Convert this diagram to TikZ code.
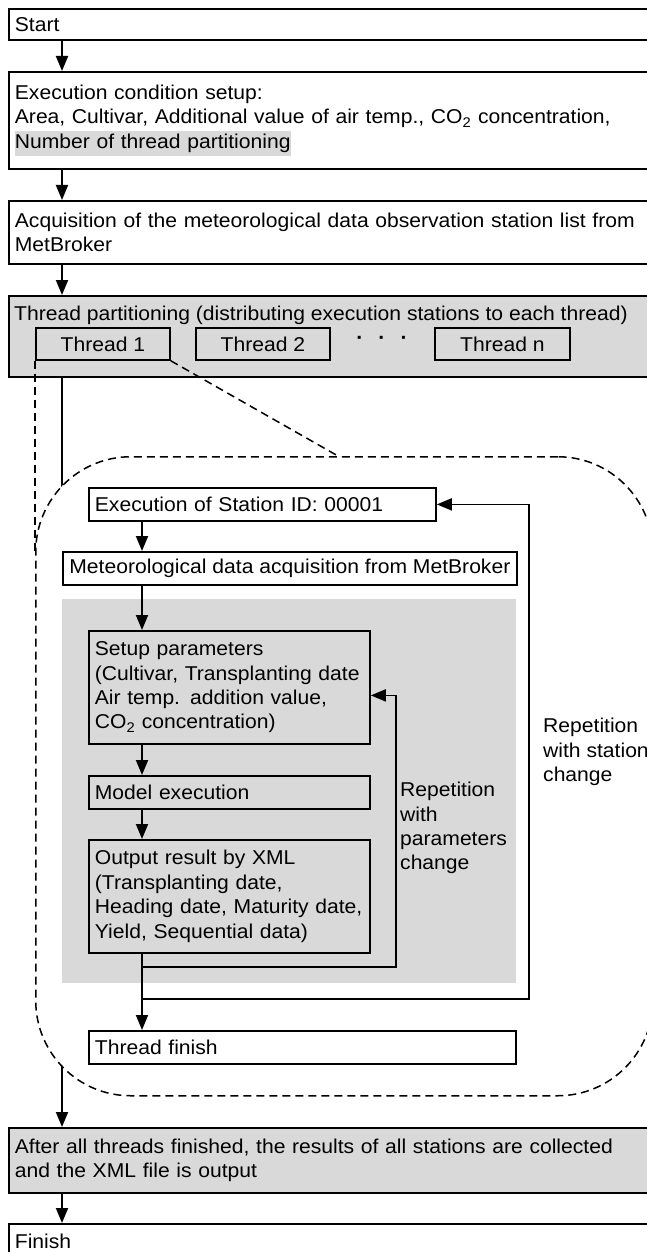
\documentclass[tikz,border=0pt]{standalone}
\usepackage{fontspec}
\setmainfont{Liberation Sans}[FakeStretch=1.055]
\usepackage{tikz}
\usetikzlibrary{arrows.meta}
\usetikzlibrary{positioning}
\definecolor{shade}{HTML}{D9D9D9}
\tikzset{
	box/.style={draw, line width=1.8pt, anchor=north west, inner xsep=6pt, inner ysep=0pt, align=left},
	mainbox/.style={box, text width=640pt},
	flow/.style={line width=1.8pt, -{Triangle[length=15pt,width=12pt]}},
	zoomline/.style={line width=1.5pt, dash pattern=on 8pt off 5pt},
	tag/.style={anchor=north west, inner sep=0pt, align=left}
}

\begin{document}
\begin{tikzpicture}[x=1pt, y=-1pt, font=\fontsize{20pt}{24.4pt}\selectfont]
		\useasboundingbox (0,0) rectangle (647,1252);
		\coordinate (spine) at (62,0);
		\coordinate (col) at (142,0);
		% main flow
		\node[mainbox, minimum height=31pt] (start) at (8,8) {Start};
		\node[mainbox, minimum height=97pt] (cond) at (8,71) {Execution condition setup:\\Area, Cultivar, Additional value of air temp., CO\textsubscript{2} concentration,\\{\setlength\fboxsep{0pt}\colorbox{shade}{\strut Number of thread partitioning}}};
		\node[mainbox, minimum height=63pt] (acq) at (8,200) {Acquisition of the meteorological data observation station list from\\MetBroker};
		\node[mainbox, fill=shade, minimum height=81pt] (part) at (8,295) {};
		\node[anchor=base west, inner sep=0pt] (parttext) at (14,320) {Thread partitioning (distributing execution stations to each thread)};
		\node[box, minimum width=134pt, minimum height=32pt] (th1) at (35,327) {Thread 1};
		\node[box, minimum width=134pt, minimum height=32pt] (th2) at (195,327) {Thread 2};
		\node[box, minimum width=135pt, minimum height=32pt] (thn) at (434,327) {Thread n};
		\node (dots) at (382,340) {\textbf{·}\hspace{15pt}\textbf{·}\hspace{15pt}\textbf{·}};
		\node[mainbox, fill=shade, minimum height=65pt] (after) at (8,1127) {\parbox{628pt}{After all threads finished, the results of all stations are collected and the XML file is output}};
		\node[mainbox, minimum height=35pt] (finish) at (8,1223) {Finish};
		\draw[flow] (start.south -| spine) -- (cond.north -| spine);
		\draw[flow] (cond.south -| spine) -- (acq.north -| spine);
		\draw[flow] (acq.south -| spine) -- (part.north -| spine);
		\draw[flow] (part.south -| spine) -- (after.north -| spine);
		\draw[flow] (after.south -| spine) -- (finish.north -| spine);
		% magnified thread
		\node[zoomline, draw, fill=white, rounded corners=95pt, anchor=north west, minimum width=617pt, minimum height=639pt] (zoom) at (35,456) {};
		\coordinate (zoomtop) at (338,456);
		\draw[zoomline] (th1.south west) -- ([yshift=-95pt]zoom.north west);
		\draw[zoomline] (th1.south east) -- (zoomtop);
		\node[fill=shade, anchor=north west, inner sep=0pt, minimum width=454pt, minimum height=384pt] (parzone) at (62,599) {};
		\node[box, text width=335pt, minimum height=33pt] (station) at (88,487) {Execution of Station ID: 00001};
		\node[box, inner xsep=4pt, minimum width=454pt, minimum height=33pt] (metget) at (62,551) {Meteorological data acquisition from MetBroker};
		\node[box, text width=269pt, minimum height=113pt] (setup) at (88,630) {Setup parameters\\(Cultivar, Transplanting date\\Air temp. addition value,\\CO\textsubscript{2} concentration)};
		\node[box, text width=269pt, minimum height=33pt] (model) at (88,775) {Model execution};
		\node[box, text width=269pt, minimum height=113pt] (output) at (88,839) {Output result by XML\\(Transplanting date,\\Heading date, Maturity date,\\Yield, Sequential data)};
		\node[box, text width=415pt, minimum height=33pt] (tfin) at (88,1030) {Thread finish};
		\node[tag] (reppar) at (400,782) {Repetition\\with\\parameters\\change};
		\node[tag] (repsta) at (543,718) {Repetition\\with station\\change};
		\draw[flow] (station.south -| col) -- (metget.north -| col);
		\draw[flow] (metget.south -| col) -- (setup.north -| col);
		\draw[flow] (setup.south -| col) -- (model.north -| col);
		\draw[flow] (model.south -| col) -- (output.north -| col);
		\draw[flow] (output.south -| col) -- (tfin.north -| col);
		\coordinate (parloop) at (396,967);
		\coordinate (staloop) at (529,999);
		\draw[flow] (parloop -| col) -- (parloop) |- ([yshift=-8pt]setup.east);
		\draw[flow] (staloop -| col) -- (staloop) |- (station.east);
\end{tikzpicture}
\end{document}
